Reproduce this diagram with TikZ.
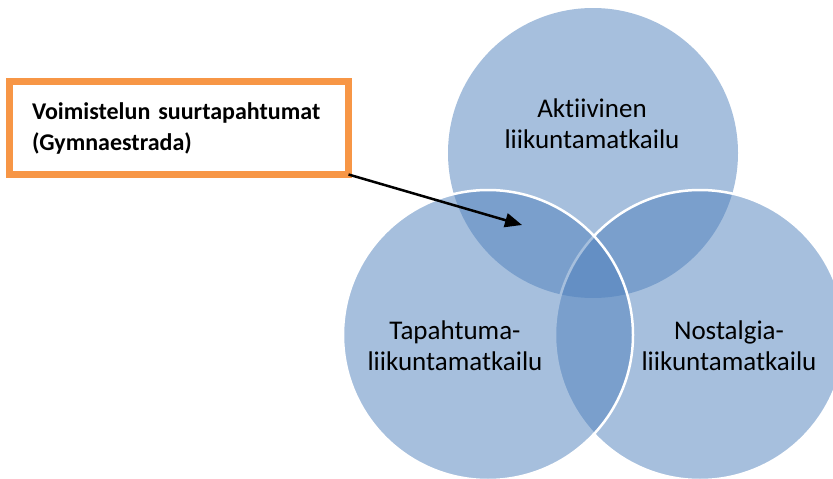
\documentclass[tikz,border=0pt]{standalone}
\usepackage{fontspec}
\setmainfont{Carlito}[Ligatures={NoCommon}]
\usetikzlibrary{arrows.meta}
\definecolor{vennblue}{RGB}{79,129,189}
\definecolor{boxorange}{RGB}{247,150,70}
\begin{document}
\begin{tikzpicture}[%
            x=1pt, y=-1pt,
            mycircle/.style={fill=vennblue, fill opacity=0.5},
            myrim/.style={draw=white, line width=2.5pt},
            mylabel/.style={align=center, font=\fontsize{27}{31}\selectfont},
            mybox/.style={draw=boxorange, line width=7pt, outer sep=0pt,
                minimum width=339pt, minimum height=93pt, inner xsep=22.5pt,
                text width=294pt, align=left,
                font=\fontsize{24}{31}\selectfont\bfseries}
    ]
        \clip (0,0) rectangle (833,479);
        \fill [white] (0,0) rectangle (833,479);

        % the three circles
        \path [mycircle] (593,153) circle (145);
        \path [mycircle] (700,335) circle (145);
        \draw [myrim] (700,335) circle (145);
        \path [mycircle] (488,335) circle (145);
        \draw [myrim] (488,335) circle (145);

        \node [mylabel] (active) at (592,124) {Aktiivinen\\liikuntamatkailu};
        \node [mylabel] (event) at (455,346) {Tapahtuma-\\liikuntamatkailu};
        \node [mylabel] (nostalgia) at (729,346) {Nostalgia-\\liikuntamatkailu};

        \node [mybox] (gymna) at (179,128) {Voimistelun suurtapahtumat\\(Gymnaestrada)};
        \coordinate (tip) at (522,225);

        \draw [line width=2.5pt, -{Triangle[length=17pt,width=14pt]}]
            (gymna.south east) -- (tip);
    \end{tikzpicture}
\end{document}
